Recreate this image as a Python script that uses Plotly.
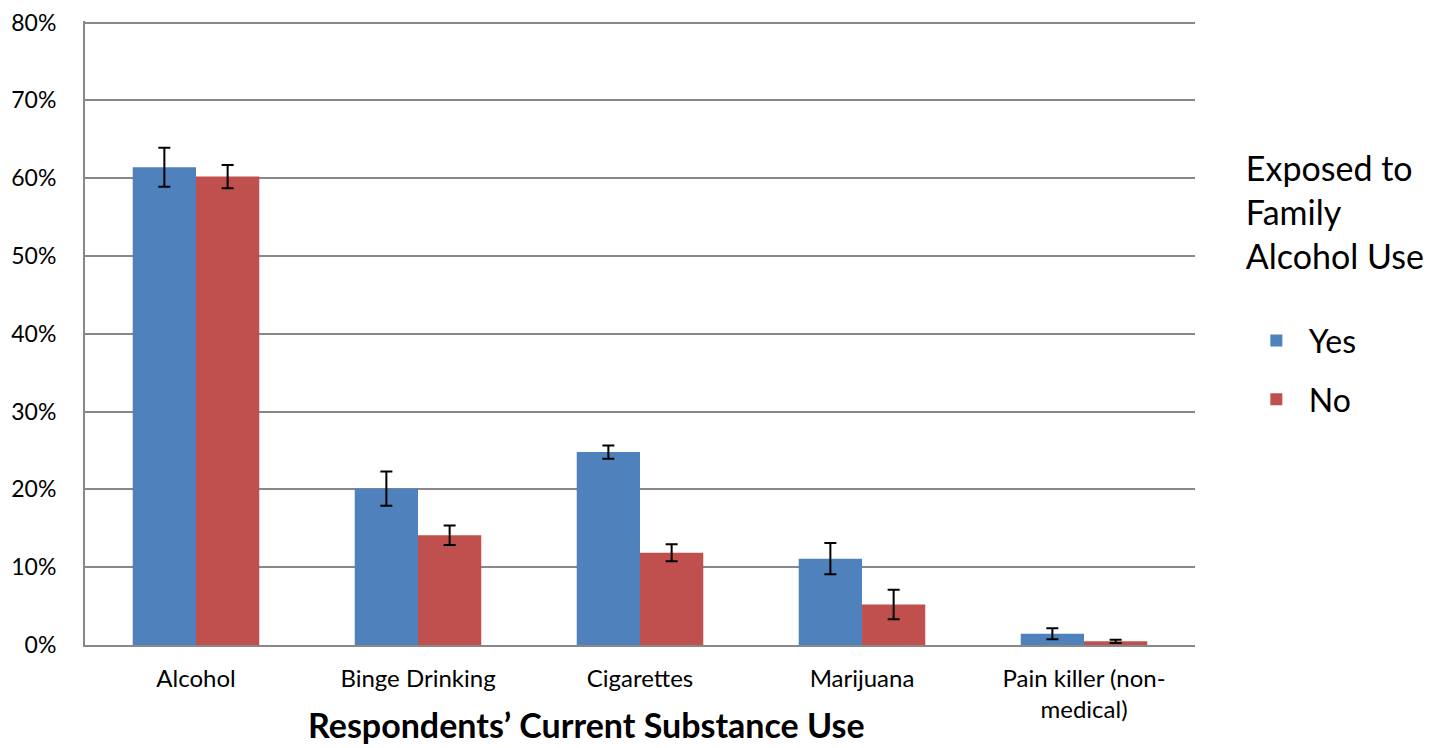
import plotly.graph_objects as go

categories = ["Alcohol", "Binge Drinking", "Cigarettes", "Marijuana", "Pain killer (non-<br>medical)"]

yes_vals = [0.614, 0.201, 0.248, 0.111, 0.0145]
yes_err = [0.025, 0.022, 0.0085, 0.020, 0.007]

no_vals = [0.602, 0.141, 0.1185, 0.052, 0.0047]
no_err = [0.015, 0.0125, 0.011, 0.019, 0.002]

font = "Lato, 'Open Sans', sans-serif"

fig = go.Figure()
fig.add_trace(go.Bar(
    x=categories, y=yes_vals, name="Yes", legendgroup="yes",
    marker=dict(color="#4F81BD", line=dict(width=0)),
    error_y=dict(type="data", array=yes_err, color="black", thickness=2, width=6),
))
fig.add_trace(go.Bar(
    x=categories, y=no_vals, name="No", legendgroup="no",
    marker=dict(color="#C0504D", line=dict(width=0)),
    error_y=dict(type="data", array=no_err, color="black", thickness=2, width=6),
))

# page body has an 8px margin, so the figure is shifted by that much
fig.update_layout(
    template="none",
    width=1435, height=740,
    margin=dict(l=77, r=248, t=13, b=103, autoexpand=False),
    plot_bgcolor="white", paper_bgcolor="white",
    barmode="group", bargap=0.43, bargroupgap=0,
    font=dict(family=font, color="black"),
    legend=dict(
        title=dict(text="Exposed to<br>Family<br>Alcohol Use<br> ", font=dict(size=34)),
        font=dict(size=32),
        x=1.044, y=0.815, xanchor="left", yanchor="top",
        traceorder="grouped", tracegroupgap=14, itemwidth=55,
    ),
    xaxis=dict(
        showgrid=False, showline=True, linecolor="#888888", linewidth=2,
        ticks="", tickfont=dict(size=24), ticklabelstandoff=11, automargin=False,
    ),
    yaxis=dict(
        # a hair above 80% so the top grid line is kept
        range=[0, 0.802], dtick=0.1, tickformat=".0%",
        showgrid=True, gridcolor="#888888", gridwidth=1.5,
        showline=True, linecolor="#888888", linewidth=2,
        zeroline=False, ticks="", tickfont=dict(size=23), ticklabelstandoff=22,
        automargin=False, ticklabeloverflow="allow",
    ),
    annotations=[dict(
        text="<b>Respondents’ Current Substance Use</b>",
        xref="paper", yref="paper", x=0.452, y=-0.128,
        xanchor="center", yanchor="middle", showarrow=False,
        font=dict(size=34),
    )],
)

fig.write_html("out.html")
